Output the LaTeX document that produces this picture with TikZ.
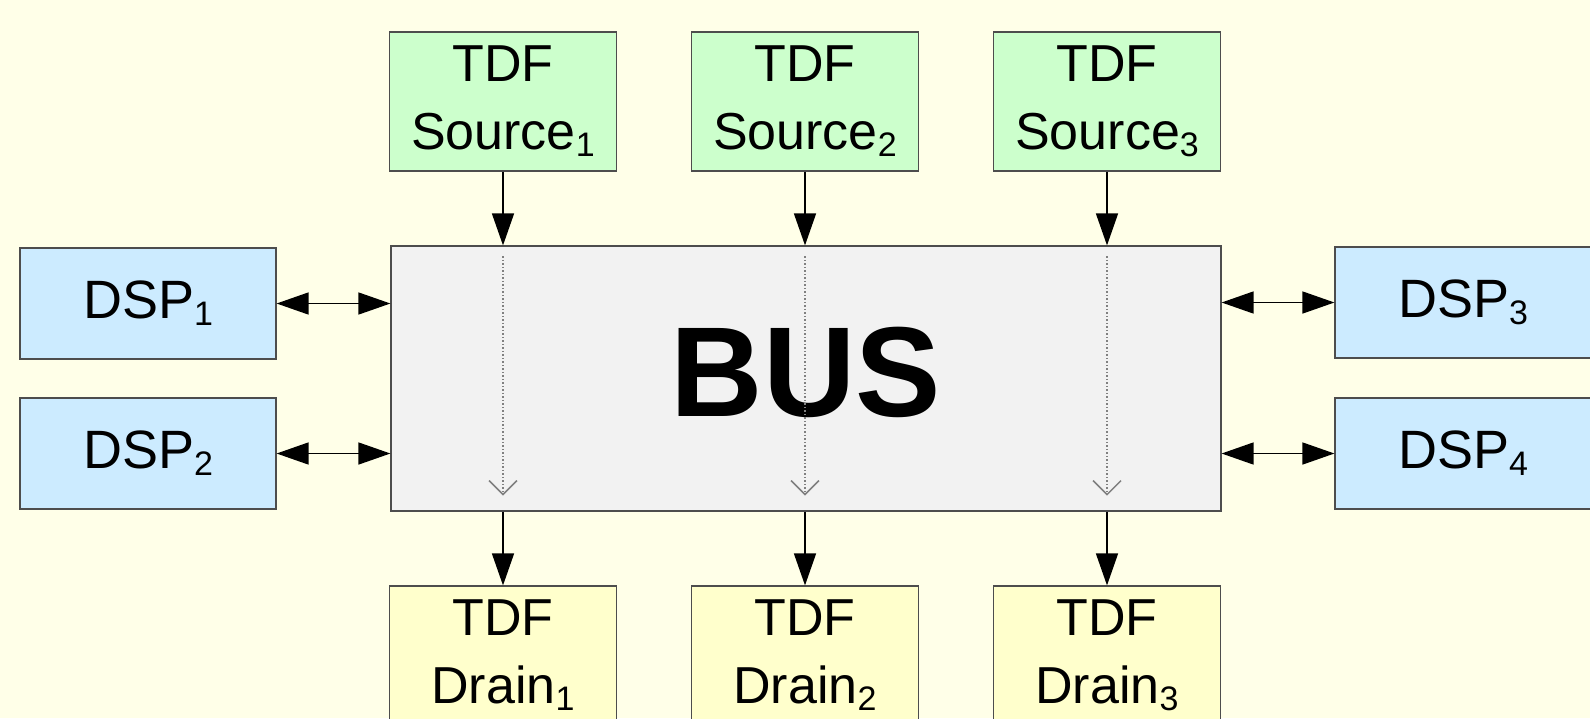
\documentclass[tikz,border=0pt]{standalone}
\usepackage{fontspec}
\setmainfont{Liberation Sans}
\usetikzlibrary{arrows.meta,positioning,calc}
\definecolor{bgyellow}{HTML}{FFFFE8}
\definecolor{srcgreen}{HTML}{CCFFCC}
\definecolor{dspblue}{HTML}{CCEBFF}
\definecolor{drainyellow}{HTML}{FFFFCC}
\definecolor{busgray}{HTML}{F2F2F2}
\definecolor{framegray}{HTML}{4D4D4D}
\newcommand{\idx}[1]{\raisebox{-3.5pt}{\fontsize{17}{17}\selectfont #1}}

\begin{document}
\begin{tikzpicture}[x=0.5pt, y=-0.5pt,
	box/.style={draw=framegray, line width=0.6pt, align=center, inner sep=0pt, font=\fontsize{26}{34}\selectfont},
	srcbox/.style={box, fill=srcgreen, minimum width=113.5pt, minimum height=69.5pt},
	drainbox/.style={box, fill=drainyellow, minimum width=113.5pt, minimum height=69.5pt},
	dspbox/.style={box, fill=dspblue, minimum width=128pt, minimum height=55.5pt, font=\fontsize{27}{34}\selectfont},
	link/.style={-{Triangle[length=16pt,width=11pt]}, line width=0.75pt},
	duplex/.style={{Triangle[length=16pt,width=11pt]}-{Triangle[length=16pt,width=11pt]}, line width=0.75pt},
	flow/.style={densely dotted, gray, line width=0.75pt, -{Straight Barb[length=7pt,width=14pt]}}]
	% Background
	\fill[bgyellow] (0,0) rectangle (1590,718);
	\useasboundingbox (0,0) rectangle (1590,718);
	
	% Bus in the middle
	\node[box, fill=busgray, minimum width=415pt, minimum height=132.5pt, text depth=7pt,
		font=\bfseries\fontsize{64}{64}\selectfont] (bus) at (806, 378.5) {BUS};
	
	% Sources on top
	\node[srcbox] (s1) at (503, 101.5) {TDF\\Source\idx{1}};
	\node[srcbox] (s2) at (805, 101.5) {TDF\\Source\idx{2}};
	\node[srcbox] (s3) at (1107, 101.5) {TDF\\Source\idx{3}};
	
	% Drains below
	\node[drainbox] (d1) at (503, 655.5) {TDF\\Drain\idx{1}};
	\node[drainbox] (d2) at (805, 655.5) {TDF\\Drain\idx{2}};
	\node[drainbox] (d3) at (1107, 655.5) {TDF\\Drain\idx{3}};
	
	% DSPs left and right
	\node[dspbox] (dsp1) at (148, 303.5) {DSP\idx{1}};
	\node[dspbox] (dsp2) at (148, 453.5) {DSP\idx{2}};
	\node[dspbox] (dsp3) at (1463, 302.5) {DSP\idx{3}};
	\node[dspbox] (dsp4) at (1463, 453.5) {DSP\idx{4}};
	
	% Connections
	\foreach \i in {1,2,3} {
		\draw[link] (s\i.south) -- (s\i.south |- bus.north);
		\draw[link] (d\i.north |- bus.south) -- (d\i.north);
		\draw[flow] ($(s\i.south |- bus.north)+(0,11)$) -- ($(d\i.north |- bus.south)+(0,-16)$);
	}
	\draw[duplex] (dsp1.east) -- (dsp1.east -| bus.west);
	\draw[duplex] (dsp2.east) -- (dsp2.east -| bus.west);
	\draw[duplex] (bus.east |- dsp3.west) -- (dsp3.west);
	\draw[duplex] (bus.east |- dsp4.west) -- (dsp4.west);
\end{tikzpicture}
\end{document}
